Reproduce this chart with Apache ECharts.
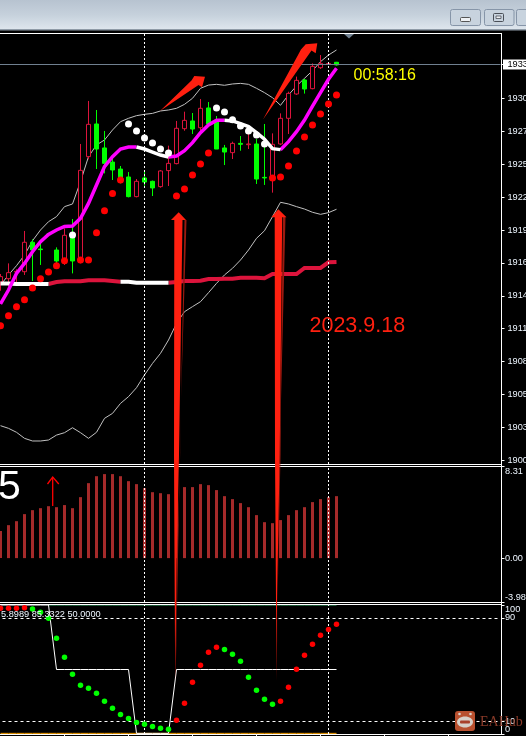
<!DOCTYPE html>
<html>
<head>
<meta charset="utf-8">
<style>html,body{margin:0;padding:0;background:#000;overflow:hidden}#c{width:526px;height:736px}</style>
<script src="https://cdn.jsdelivr.net/npm/echarts@6/dist/echarts.min.js"></script>
</head>
<body>
<div id="c"></div>
<script>
// ---- Price pane data (one entry per bar) ----
const open = [1915.29,1915.57,1916.12,1916.15,1918.59,1918.03,1919.27,1917.95,1916.98,1919.19,1917.12,1925.70,1928.41,1926.42,1925.25,1924.67,1924.01,1922.38,1923.93,1923.65,1923.21,1924.54,1925.12,1928.02,1928.66,1928.10,1929.74,1928.68,1926.42,1926.03,1926.80,1926.69,1926.75,1923.98,1923.93,1926.75,1928.88,1930.90,1932.06,1931.34,1933.08,1933.40,1933.53];
const close = [1915.74,1916.07,1916.18,1918.59,1917.95,1917.98,1919.23,1917.04,1919.17,1917.04,1924.56,1928.38,1926.33,1925.14,1924.59,1923.90,1922.38,1923.65,1923.59,1923.10,1924.51,1925.14,1928.05,1928.71,1927.99,1929.71,1928.41,1926.33,1926.08,1926.80,1926.72,1926.75,1923.84,1923.93,1926.72,1928.88,1930.95,1932.03,1931.31,1933.19,1933.44,1933.42,1933.31];
const low = [1914.57,1914.91,1915.18,1915.88,1915.38,1916.71,1919.15,1916.84,1916.71,1916.01,1916.84,1925.48,1924.67,1924.31,1923.76,1923.48,1922.32,1922.32,1923.29,1922.43,1923.12,1923.26,1925.06,1927.85,1927.58,1927.63,1928.30,1926.33,1925.00,1925.50,1926.19,1926.33,1923.43,1923.35,1922.71,1926.67,1927.58,1930.82,1930.93,1931.29,1932.97,1933.35,1933.25];
const high = [1915.96,1916.84,1916.35,1919.53,1918.84,1918.45,1919.35,1918.17,1919.75,1920.52,1926.75,1930.32,1929.57,1927.83,1925.70,1924.92,1924.42,1923.84,1924.48,1923.71,1924.59,1926.61,1928.66,1929.43,1929.32,1930.48,1930.23,1929.07,1926.67,1926.94,1927.41,1927.58,1927.16,1928.41,1927.63,1929.29,1931.09,1932.34,1932.14,1933.44,1934.13,1933.50,1933.56];
const sarRed = [1911.67,1912.50,1913.25,1913.83,1914.80,1915.57,1916.12,1916.65,1917.06,null,1917.12,1917.12,1919.39,1921.21,1922.63,1923.76,null,null,null,null,null,null,1922.43,1923.01,1924.18,1925.09,1926.00,null,null,null,null,null,null,null,1923.93,1924.01,1924.92,1926.17,1927.33,1928.33,1929.24,1930.07,1930.82];
const sarWhite = [null,null,null,null,null,null,null,null,null,1919.19,null,null,null,null,null,null,1928.41,1927.83,1927.25,1926.83,1926.33,1926.00,null,null,null,null,null,1929.74,1929.40,1928.77,1928.24,1927.83,1927.50,1926.75,null,null,null,null,null,null,null,null,null];
const trend = [1913.47,1914.63,1916.01,1916.84,1917.81,1918.64,1919.25,1919.61,1919.91,1919.94,1920.58,1921.82,1923.35,1924.87,1925.70,1926.33,1926.50,1926.50,1926.33,1926.08,1925.83,1925.67,1925.75,1926.19,1926.86,1927.69,1928.33,1928.71,1928.71,1928.66,1928.44,1928.19,1927.69,1927.14,1926.36,1926.28,1926.94,1927.77,1928.74,1929.90,1931.01,1932.12,1933.03];
const trendWhiteSpans = [[17,21],[28,35]];
const longMa = [1915.18,1915.18,1915.13,1915.13,1915.13,1915.13,1915.13,1915.29,1915.35,1915.35,1915.35,1915.43,1915.43,1915.43,1915.38,1915.32,1915.32,1915.24,1915.24,1915.24,1915.24,1915.24,1915.29,1915.38,1915.38,1915.40,1915.54,1915.54,1915.57,1915.57,1915.65,1915.65,1915.65,1915.60,1915.96,1915.96,1915.96,1915.96,1916.46,1916.46,1916.46,1916.93,1916.95];
const longMaWhiteSpans = [[0,6],[15,21]];
const bandUpper = [1915.04,1915.88,1916.65,1917.53,1918.72,1919.61,1920.30,1920.72,1921.55,1921.77,1923.62,1925.70,1926.67,1927.08,1927.91,1928.60,1928.88,1929.10,1929.21,1929.29,1929.49,1929.57,1929.71,1930.04,1930.54,1931.37,1931.64,1931.70,1931.62,1931.73,1931.78,1931.70,1931.37,1931.01,1930.59,1929.96,1930.82,1931.56,1932.20,1932.83,1933.58,1934.13,1934.55];
const bandLower = [1903.37,1903.15,1902.82,1902.32,1902.10,1902.10,1902.18,1902.59,1902.79,1903.20,1902.79,1902.32,1902.82,1903.98,1904.39,1905.22,1905.78,1906.52,1907.58,1908.54,1909.37,1910.48,1911.86,1912.83,1913.25,1913.66,1914.41,1915.18,1915.88,1916.43,1917.12,1917.95,1918.92,1919.55,1920.72,1921.91,1921.77,1921.55,1921.35,1921.08,1920.91,1921.05,1921.33];
const priceTicks = [1900.50,1903.23,1905.96,1908.69,1911.42,1914.15,1916.88,1919.61,1922.34,1925.07,1927.80,1930.53];
const currentPrice = 1933.39;
const priceMin = 1900.19, priceMax = 1935.96;

// ---- Histogram pane data ----
const histogram = [2.45,2.99,3.35,3.99,4.35,4.53,4.71,4.62,4.81,4.53,5.53,6.80,7.43,7.62,7.62,7.43,6.98,6.71,6.35,5.98,5.89,5.80,6.10,6.44,6.44,6.71,6.62,6.17,5.62,5.35,4.99,4.62,3.90,3.26,3.17,3.45,3.90,4.35,4.62,5.08,5.35,5.53,5.62];
const histogramTicks = [-3.98,0,8.31];

// ---- Oscillator pane data ----
const stochRed = [97.4,97.4,97.4,97.9,null,null,null,null,null,null,null,null,null,null,null,null,null,null,null,null,null,null,10.6,23.8,40.1,53.2,63.3,67.2,null,null,null,null,null,null,null,25.3,36.2,50.1,61.0,69.5,76.5,81.1,85.0];
const stochGreen = [null,null,null,null,96.9,94.3,89.7,74.2,59.4,46.3,37.7,35.4,31.5,25.3,19.9,15.2,12.1,9.0,7.5,5.9,4.4,3.6,null,null,null,null,null,null,65.6,61.8,56.3,43.9,33.9,26.9,23.0,null,null,null,null,null,null,null,null];
const signalStep = [100,100,100,100,100,100,100,50,50,50,50,50,50,50,50,50,50,0.5,0.5,0.5,0.5,0.5,50,50,50,50,50,50,50,50,50,50,50,50,50,50,50,50,50,50,50,50,50];
const topGuide = [null,null,null,null,null,null,100,100,100,100,100,100,100,100,100,100,100,100,100,100,100,100,100,100,100,100,100,100,100,100,100,100,100,100,100,100,100,100,100,100,100,100,100];
const bottomGuide = [0.5,0.5,0.5,0.5,0.5,0.5,0.5,0.5,0.5,0.5,0.5,0.5,0.5,0.5,0.5,0.5,0.5,0.5,0.5,0.5,0.5,0.5,0.5,0.5,0.5,0.5,0.5,0.5,0.5,0.5,0.5,0.5,0.5,0.5,0.5,0.5,0.5,0.5,0.5,0.5,0.5,0.5,0.5];
const stochRangeTicks = [0,100];
const stochLevels = [10,90];

// ---- Axis helpers ----
const slotCount = 63;               // bars that fit across the plot, including the empty right margin
const barSlots = Array.from({length: slotCount}, () => '');
const separatorBars = [18, 41];     // dashed period separators
const timeTickEvery = 8;

const FONT = '"Liberation Sans", Arial, sans-serif';
const AXIS_TEXT = '#eef6ff';
const RED = '#ff2010', RED_DARK = '#9c1a10';

function spans(values, ranges, inside) {
  return values.map((v, i) => {
    const inRange = ranges.some(r => i >= r[0] && i <= r[1]);
    return (inside ? inRange : (inRange ? ranges.some(r => i === r[0] || i === r[1]) : true)) ? v : null;
  });
}
const vSeparators = {
  silent: true, symbol: 'none', animation: false, label: {show: false},
  lineStyle: {color: '#fff', type: [2, 2], width: 1},
  data: separatorBars.map(b => ({xAxis: b}))
};
function xAxisFor(gridIndex, ticks) {
  return {
    type: 'category', gridIndex, data: barSlots, boundaryGap: true,
    axisLine: {show: false}, axisLabel: {show: false}, splitLine: {show: false},
    axisTick: ticks ? {show: true, length: 3, alignWithLabel: true,
      interval: i => i > 0 && i % timeTickEvery === 0, lineStyle: {color: '#fff'}} : {show: false}
  };
}
function yAxisFor(gridIndex, min, max, ticks, labelCfg) {
  return {
    type: 'value', gridIndex, position: 'right', offset: 1, min, max, scale: true,
    axisLine: {show: false}, splitLine: {show: false},
    axisTick: {show: true, length: 3, customValues: ticks, lineStyle: {color: '#fff'}},
    axisLabel: Object.assign({show: true, customValues: ticks, fontFamily: FONT, fontSize: 9.2, color: AXIS_TEXT, margin: 3.5, hideOverlap: false, showMinLabel: true, showMaxLabel: true}, labelCfg)
  };
}
function line(name, data, color, width, x, extra) {
  return Object.assign({
    name, type: 'line', xAxisIndex: x, yAxisIndex: x, data, showSymbol: false, symbol: 'none',
    connectNulls: false, smooth: false, silent: true, animation: false,
    lineStyle: {color, width, cap: 'butt', join: 'miter'}
  }, extra || {});
}
function dots(name, data, color, size, x, z) {
  return {name, type: 'scatter', xAxisIndex: x, yAxisIndex: x, data, symbolSize: size, z,
    itemStyle: {color, opacity: 1}, silent: true, animation: false};
}
function poly(points, fill, z) { return {type: 'polygon', shape: {points}, style: {fill}, z: z || 100, silent: true}; }
function hline(y, x2, stroke) { return {type: 'line', shape: {x1: 0, y1: y, x2, y2: y}, style: {stroke: stroke || '#fff', lineWidth: 1}, z: 50, silent: true}; }
function label(text, x, y, fill, font, z) {
  return {type: 'text', x, y, z: z || 120, silent: true,
    style: {text, fill, font, textVerticalAlign: 'middle', textAlign: 'left'}};
}

const chart = echarts.init(document.getElementById('c'), null, {renderer: 'canvas', width: 526, height: 736});

chart.setOption({
  backgroundColor: '#000',
  animation: false,
  tooltip: {show: false},
  legend: {show: false},
  grid: [
    {left: -3.5, width: 504, top: 33, height: 431, outerBoundsMode: 'none', containLabel: false},
    {left: -3.5, width: 504, top: 466.5, height: 135.5, outerBoundsMode: 'none', containLabel: false},
    {left: -3.5, width: 504, top: 605, height: 129, outerBoundsMode: 'none', containLabel: false}
  ],
  xAxis: [xAxisFor(0, false), xAxisFor(1, false), xAxisFor(2, true)],
  yAxis: [
    yAxisFor(0, priceMin, priceMax, priceTicks.concat([currentPrice]), {
      margin: 6,
      formatter: v => String(Math.floor(v)),
      color: v => Math.abs(v - currentPrice) < 0.01 ? '#000' : AXIS_TEXT
    }),
    yAxisFor(1, -3.98, 8.31, histogramTicks, {
      formatter: v => v.toFixed(2),
      verticalAlignMaxLabel: 'top', verticalAlignMinLabel: 'bottom'
    }),
    yAxisFor(2, 0, 100, stochRangeTicks, {
      formatter: v => String(v),
      verticalAlignMaxLabel: 'top', verticalAlignMinLabel: 'bottom'
    }),
    // level labels sit on their own axis so the range labels cannot hide them
    yAxisFor(2, 0, 100, stochLevels, {
      formatter: v => String(v),
      showMinLabel: null, showMaxLabel: null
    })
  ],
  series: [
    line('bandUpper', bandUpper, '#c0c0c0', 1, 0, {z: 2, markLine: Object.assign({}, vSeparators, {
      data: vSeparators.data.concat([{yAxis: currentPrice, lineStyle: {color: '#708090', type: 'solid', width: 1}}])
    })}),
    line('bandLower', bandLower, '#c0c0c0', 1, 0, {z: 2}),
    {
      name: 'price', type: 'candlestick', xAxisIndex: 0, yAxisIndex: 0, barWidth: 5, z: 3,
      data: open.map((o, i) => [o, close[i], low[i], high[i]]), silent: true, animation: false,
      itemStyle: {color: '#000', color0: '#00ff00', borderColor: '#dc143c', borderColor0: '#00ff00', borderWidth: 1}
    },
    line('longMaRed', spans(longMa, longMaWhiteSpans, false), '#dc143c', 4, 0, {z: 4}),
    line('longMaWhite', spans(longMa, longMaWhiteSpans, true), '#ffffff', 4, 0, {z: 5}),
    line('trendUp', spans(trend, trendWhiteSpans, false), '#ff00ff', 3.5, 0, {z: 6}),
    line('trendDown', spans(trend, trendWhiteSpans, true), '#ffffff', 3.5, 0, {z: 7}),
    dots('sarRed', sarRed, '#ff0000', 7, 0, 8),
    dots('sarWhite', sarWhite, '#ffffff', 7, 0, 8),
    {
      name: 'histogram', type: 'bar', xAxisIndex: 1, yAxisIndex: 1, data: histogram, barWidth: 3,
      itemStyle: {color: '#a52a2a'}, silent: true, animation: false, z: 3, markLine: vSeparators
    },
    line('topGuide', topGuide, '#3cb371', 1, 2, {z: 2}),
    line('bottomGuide', bottomGuide, '#ffa500', 1, 2, {z: 2}),
    line('signalStep', signalStep, '#ffffff', 1, 2, {z: 3, markLine: Object.assign({}, vSeparators, {
      data: vSeparators.data.concat(stochLevels.map(v => ({yAxis: v, lineStyle: {color: '#fff', type: [3, 3], width: 1}})))
    })}),
    dots('stochRed', stochRed, '#ff0000', 5.5, 2, 5),
    dots('stochGreen', stochGreen, '#00ff00', 5.5, 2, 5)
  ],
  graphic: {elements: [
    // terminal title strip
    {type: 'rect', shape: {x: 0, y: 0, width: 526, height: 30}, silent: true, z: 1,
     style: {fill: new echarts.graphic.LinearGradient(0, 0, 0, 1, [
       {offset: 0, color: '#b7c3d0'}, {offset: 0.5, color: '#c6d1dc'}, {offset: 1, color: '#dfe7ee'}])}},
    {type: 'rect', shape: {x: 0, y: 29, width: 526, height: 1.5}, style: {fill: '#8f9ba7'}, z: 2, silent: true},
    {type: 'rect', shape: {x: 450.5, y: 9.5, width: 30, height: 16, r: 2}, style: {fill: '#c8d3de', stroke: '#8695a8'}, z: 2, silent: true},
    {type: 'rect', shape: {x: 484.5, y: 9.5, width: 29.5, height: 16, r: 2}, style: {fill: '#c8d3de', stroke: '#8695a8'}, z: 2, silent: true},
    {type: 'rect', shape: {x: 516.5, y: 9.5, width: 30, height: 16, r: 2}, style: {fill: '#c8d3de', stroke: '#8695a8'}, z: 2, silent: true},
    {type: 'rect', shape: {x: 460.5, y: 17.5, width: 10, height: 4, r: 1}, style: {fill: '#eef1f4', stroke: '#555'}, z: 3, silent: true},
    {type: 'rect', shape: {x: 493.5, y: 13.5, width: 10, height: 8, r: 1}, style: {fill: '#c8d3de', stroke: '#4a4f57'}, z: 3, silent: true},
    {type: 'rect', shape: {x: 496, y: 16, width: 5, height: 2.5}, style: {fill: '#eef1f4', stroke: '#4a4f57', lineWidth: 0.8}, z: 3, silent: true},
    // window frame lines
    hline(33.5, 502), hline(464.5, 502), hline(466.5, 502), hline(602.5, 502), hline(604.5, 502), hline(734.5, 502),
    {type: 'line', shape: {x1: 501.5, y1: 33, x2: 501.5, y2: 735}, style: {stroke: '#fff', lineWidth: 1}, z: 50, silent: true},
    // shift marker and current-price box
    poly([[344, 34], [354, 34], [349, 38.5]], '#708090', 51),
    {type: 'rect', shape: {x: 503, y: 59.5, width: 23, height: 10}, style: {fill: '#fff'}, z: -1, silent: true},
    // hand-drawn annotation arrows
    poly([[160, 111], [191.5, 80.5], [194.3, 76], [205, 76.7], [202, 87.3], [198.5, 85]], RED),
    poly([[263, 119.5], [301, 49.5], [305.7, 44.3], [317.3, 43.3], [315.7, 53.3], [311.5, 50.5]], RED),
    poly([[184.5, 220], [186.5, 220], [181, 400], [180, 460], [177, 558], [175.6, 680]], RED_DARK, 99),
    poly([[178.7, 212.3], [186, 220], [182.5, 220], [179, 455], [176.7, 558], [175.2, 680], [174.5, 558], [174, 455], [174.3, 220], [171, 220]], RED),
    poly([[283, 217], [285.5, 217], [281, 400], [280.5, 455], [277.5, 602], [276.5, 681]], RED_DARK, 99),
    poly([[278.3, 209.3], [286.5, 217.3], [282.2, 217.3], [279.7, 455], [277, 602], [276.3, 681], [276, 602], [275, 455], [274.7, 217.3], [271.3, 217.3]], RED),
    // small pointer in the histogram pane
    {type: 'polyline', shape: {points: [[52.7, 506], [52.7, 477]]}, style: {stroke: '#ff0000', lineWidth: 1.3, fill: 'none'}, z: 100, silent: true},
    {type: 'polyline', shape: {points: [[47.5, 484], [52.7, 477], [58.8, 484]]}, style: {stroke: '#ff0000', lineWidth: 1.3, fill: 'none'}, z: 100, silent: true},
    // texts
    label('5', -2, 488, '#ffffff', '41px ' + FONT),
    label('2023.9.18', 309.5, 326, RED, '21.5px ' + FONT),
    label('00:58:16', 353.5, 75.5, '#ffff00', '16px ' + FONT),
    label('5.8989 85.3322 50.0000', 1, 614, '#eef6ff', '9.2px ' + FONT),
    // watermark
    {type: 'rect', shape: {x: 455, y: 711, width: 20, height: 20, r: 3}, style: {fill: '#b8502f'}, z: 110, silent: true},
    {type: 'ellipse', shape: {cx: 465, cy: 722, rx: 8, ry: 5.5}, style: {fill: '#d6cfc8'}, z: 111, silent: true},
    {type: 'circle', shape: {cx: 459.5, cy: 714, r: 1.3}, style: {fill: '#d6cfc8'}, z: 111, silent: true},
    {type: 'circle', shape: {cx: 470.5, cy: 714, r: 1.3}, style: {fill: '#d6cfc8'}, z: 111, silent: true},
    {type: 'rect', shape: {x: 460, y: 720.5, width: 10, height: 3, r: 1}, style: {fill: '#a8402a'}, z: 112, silent: true},
    label('EAHub', 480, 722, '#8a3a28', '14px "Liberation Serif", serif', 112)
  ]}
});
</script>
</body>
</html>
